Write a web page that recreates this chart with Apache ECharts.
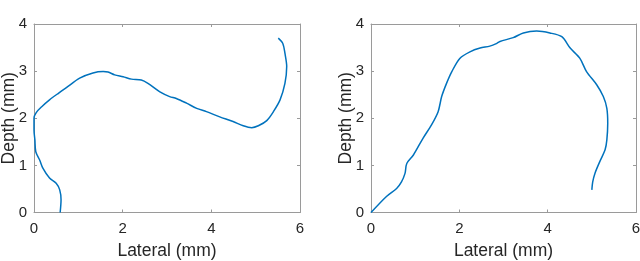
<!DOCTYPE html>
<html>
<head>
<meta charset="utf-8">
<script src="https://cdn.jsdelivr.net/npm/echarts@6/dist/echarts.min.js"></script>
<style>
html,body{margin:0;padding:0;background:#fff;}
#c{width:640px;height:261px;}
</style>
</head>
<body>
<div id="c"></div>
<script>
var xTicks = [0, 2, 4, 6];
var yTicks = [0, 1, 2, 3, 4];
var xLabel = 'Lateral (mm)';
var yLabel = 'Depth (mm)';

var leftX = [0.59, 0.61, 0.58, 0.50, 0.35, 0.20, 0.13, 0.04, 0.02, 0.00, 0.00, 0.05, 0.18, 0.35, 0.55, 0.73, 1.03, 1.33, 1.56, 1.67, 1.82, 2.01, 2.20, 2.42, 2.57, 2.84, 3.06, 3.21, 3.44, 3.67, 3.89, 4.19, 4.49, 4.72, 4.91, 5.06, 5.25, 5.40, 5.55, 5.66, 5.70, 5.66, 5.61, 5.51];
var leftY = [0.00, 0.27, 0.48, 0.62, 0.73, 0.94, 1.11, 1.29, 1.54, 1.75, 2.00, 2.12, 2.25, 2.39, 2.53, 2.65, 2.85, 2.96, 2.99, 2.98, 2.92, 2.88, 2.83, 2.81, 2.74, 2.56, 2.46, 2.42, 2.32, 2.21, 2.14, 2.03, 1.93, 1.84, 1.80, 1.84, 1.95, 2.14, 2.39, 2.74, 3.10, 3.38, 3.59, 3.70];

var rightX = [0.00, 0.35, 0.58, 0.69, 0.77, 0.81, 0.96, 1.18, 1.37, 1.52, 1.60, 1.71, 1.83, 2.01, 2.24, 2.47, 2.69, 2.85, 2.92, 3.22, 3.45, 3.75, 4.05, 4.32, 4.51, 4.73, 4.88, 5.11, 5.26, 5.34, 5.36, 5.34, 5.30, 5.18, 5.07, 5.02, 5.00];
var rightY = [0.00, 0.34, 0.51, 0.65, 0.83, 1.04, 1.22, 1.58, 1.86, 2.14, 2.46, 2.74, 2.99, 3.27, 3.41, 3.49, 3.53, 3.59, 3.63, 3.71, 3.81, 3.85, 3.81, 3.73, 3.49, 3.27, 2.99, 2.71, 2.46, 2.21, 1.89, 1.54, 1.33, 1.08, 0.83, 0.65, 0.48];

function pairs(xs, ys) { return xs.map(function (x, i) { return [x, ys[i]]; }); }

var chart = echarts.init(document.getElementById('c'), null, {renderer: 'canvas'});
var font = 'Liberation Sans, Arial, sans-serif';
var boxColor = '#9a9a9a';
var textColor = '#262626';

function xAxes(gi) {
  return [{
    type: 'value', gridIndex: gi, min: 0, max: 6, interval: 2, position: 'bottom',
    name: xLabel, nameLocation: 'middle', nameGap: 30, nameMoveOverlap: false,
    nameTextStyle: {fontFamily: font, fontSize: 17.5, color: textColor},
    axisLine: {show: true, onZero: false, lineStyle: {color: boxColor, width: 1}},
    axisTick: {show: true, inside: true, length: 3, lineStyle: {color: boxColor}},
    axisLabel: {fontFamily: font, fontSize: 15, color: textColor, margin: 9},
    splitLine: {show: false}
  }, {
    type: 'value', gridIndex: gi, min: 0, max: 6, interval: 2, position: 'top',
    axisLine: {show: true, onZero: false, lineStyle: {color: boxColor, width: 1}},
    axisTick: {show: true, inside: true, length: 3, lineStyle: {color: boxColor}},
    axisLabel: {show: false}, splitLine: {show: false}
  }];
}
function yAxes(gi) {
  return [{
    type: 'value', gridIndex: gi, min: 0, max: 4, interval: 1, position: 'left',
    name: yLabel, nameLocation: 'middle', nameGap: 16, nameMoveOverlap: false,
    nameTextStyle: {fontFamily: font, fontSize: 17.5, color: textColor},
    axisLine: {show: true, onZero: false, lineStyle: {color: boxColor, width: 1}},
    axisTick: {show: true, inside: true, length: 3, lineStyle: {color: boxColor}},
    axisLabel: {fontFamily: font, fontSize: 15, color: textColor, margin: 7},
    splitLine: {show: false}
  }, {
    type: 'value', gridIndex: gi, min: 0, max: 4, interval: 1, position: 'right',
    axisLine: {show: true, onZero: false, lineStyle: {color: boxColor, width: 1}},
    axisTick: {show: true, inside: true, length: 3, lineStyle: {color: boxColor}},
    axisLabel: {show: false}, splitLine: {show: false}
  }];
}

var option = {
  animation: false,
  backgroundColor: '#fff',
  grid: [
    {left: 34, top: 24, width: 266, height: 188.5, containLabel: false, outerBoundsMode: 'none'},
    {left: 371, top: 24, width: 265, height: 188.5, containLabel: false, outerBoundsMode: 'none'}
  ],
  xAxis: xAxes(0).concat(xAxes(1)),
  yAxis: yAxes(0).concat(yAxes(1)),
  series: [
    {type: 'line', xAxisIndex: 0, yAxisIndex: 0, data: pairs(leftX, leftY), showSymbol: false, smooth: 0.3,
     lineStyle: {color: '#0072BD', width: 1.5}},
    {type: 'line', xAxisIndex: 2, yAxisIndex: 2, data: pairs(rightX, rightY), showSymbol: false, smooth: 0.3,
     lineStyle: {color: '#0072BD', width: 1.5}}
  ]
};
chart.setOption(option);
</script>
</body>
</html>
